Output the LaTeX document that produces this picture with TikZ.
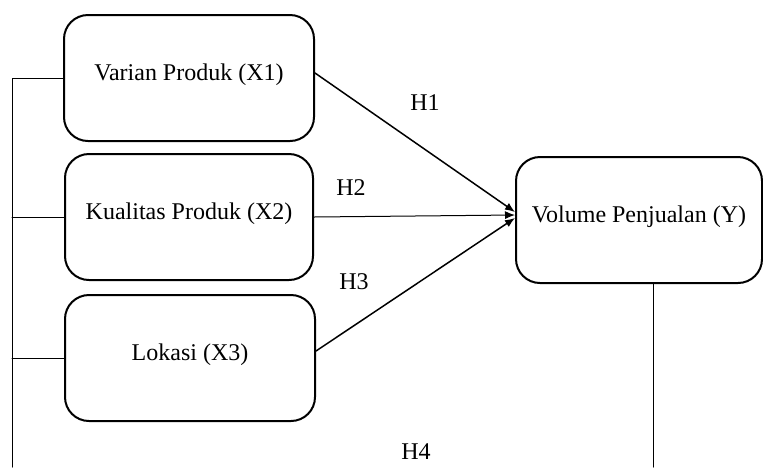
\documentclass[tikz,border=0pt]{standalone}
\usepackage{fontspec}
\setmainfont{Liberation Serif}
\usetikzlibrary{positioning,arrows.meta}
\begin{document}
\begin{tikzpicture}[x=0.5pt,y=-0.5pt,line cap=round,line join=round,>={Latex[length=5pt,width=4pt]},
  varbox/.style={draw,line width=1pt,rounded corners=12pt,minimum width=125pt,minimum height=63pt,
    text depth=6pt,font=\fontsize{12}{14}\selectfont},
  hlabel/.style={font=\fontsize{12}{14}\selectfont}]
  \useasboundingbox (0,0) rectangle (763,467);
  \node[varbox] (x1) at (189,78) {Varian Produk (X1)};
  \node[varbox,minimum width=124pt] (x2) at (189,217) {Kualitas Produk (X2)};
  \node[varbox] (x3) at (190,358) {Lokasi (X3)};
  \node[varbox,minimum width=123pt] (y) at (639,220) {Volume Penjualan (Y)};
  \coordinate (lb) at (12,467);
  \coordinate (yb) at (653,467);
  % hypothesis arrows
  \draw[line width=0.75pt,->] ([yshift=2.5pt]x1.east) -- ([yshift=4pt]y.west);
  \draw[line width=0.5pt,->] (x2.east) -- ([yshift=2.5pt]y.west);
  \draw[line width=0.75pt,->] ([yshift=3.5pt]x3.east) -- ([yshift=1pt]y.west);
  % bracket on the left and line below Y
  \draw[line width=0.5pt] (x1.west) -| (lb);
  \draw[line width=0.5pt] (x2.west) -- (x2.west -| lb);
  \draw[line width=0.5pt] (x3.west) -- (x3.west -| lb);
  \draw[line width=0.5pt] (y.south -| yb) -- (yb);
  \node[hlabel] (h1) at (425,103) {H1};
  \node[hlabel] (h2) at (351,188) {H2};
  \node[hlabel] (h3) at (354,282) {H3};
  \node[hlabel] (h4) at (416,452) {H4};
\end{tikzpicture}
\end{document}
